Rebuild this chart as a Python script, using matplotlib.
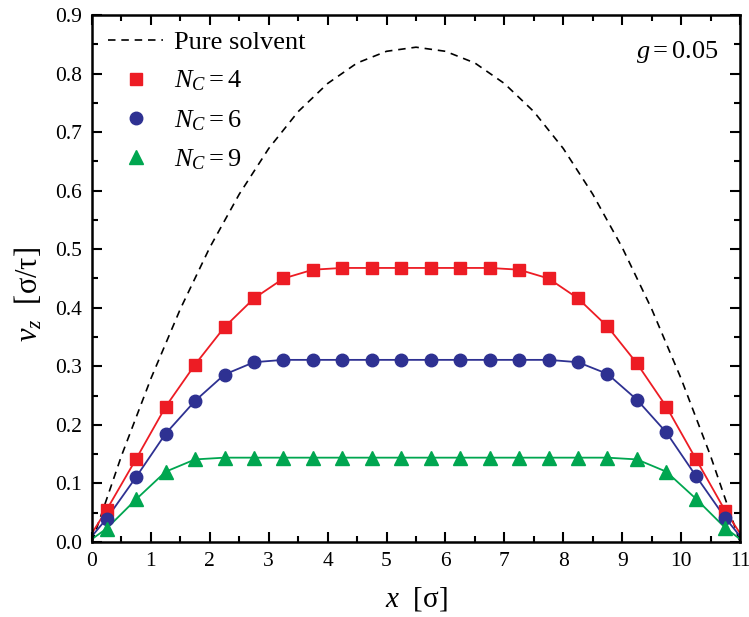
import matplotlib
matplotlib.use("Agg")
import matplotlib.pyplot as plt
from matplotlib.ticker import MultipleLocator, FormatStrFormatter

plt.rcParams["font.family"] = ["Liberation Serif", "DejaVu Serif"]
plt.rcParams["mathtext.fontset"] = "custom"
plt.rcParams["mathtext.rm"] = "Liberation Serif"
plt.rcParams["mathtext.it"] = "Liberation Serif:italic"
plt.rcParams["mathtext.bf"] = "Liberation Serif:bold"

# Sampled positions across the channel
x_pts = [0.25, 0.75, 1.25, 1.75, 2.25, 2.75, 3.25, 3.75, 4.25, 4.75, 5.25,
         5.75, 6.25, 6.75, 7.25, 7.75, 8.25, 8.75, 9.25, 9.75, 10.25, 10.75]

v_nc4 = [0.055, 0.142, 0.231, 0.303, 0.367, 0.416, 0.450, 0.465, 0.468, 0.468, 0.468,
         0.468, 0.468, 0.468, 0.465, 0.450, 0.416, 0.368, 0.305, 0.231, 0.142, 0.053]
v_nc6 = [0.040, 0.111, 0.185, 0.241, 0.286, 0.307, 0.311, 0.311, 0.311, 0.311, 0.311,
         0.311, 0.311, 0.311, 0.311, 0.311, 0.307, 0.287, 0.243, 0.187, 0.113, 0.041]
v_nc9 = [0.023, 0.073, 0.120, 0.141, 0.144, 0.144, 0.144, 0.144, 0.144, 0.144, 0.144,
         0.144, 0.144, 0.144, 0.144, 0.144, 0.144, 0.144, 0.141, 0.120, 0.074, 0.024]

# Wall values used to close the fitted lines
x_walls = [0.0, 11.0]
wall_nc4 = [0.015, 0.015]
wall_nc6 = [0.010, 0.010]
wall_nc9 = [0.005, 0.005]

# Pure solvent profile
x_solvent = [0.0, 0.5, 1.0, 1.5, 2.0, 2.5, 3.0, 3.5, 4.0, 4.5, 5.0, 5.5,
             6.0, 6.5, 7.0, 7.5, 8.0, 8.5, 9.0, 9.5, 10.0, 10.5, 11.0]
v_solvent = [0.000, 0.147, 0.279, 0.398, 0.503, 0.594, 0.672, 0.735, 0.783, 0.818, 0.838, 0.845,
             0.838, 0.818, 0.783, 0.735, 0.672, 0.594, 0.503, 0.398, 0.279, 0.147, 0.000]

series = [
    ("$N_C = 4$", v_nc4, wall_nc4, "#ED1C24", "s", 8.0),
    ("$N_C = 6$", v_nc6, wall_nc6, "#2E3192", "o", 9.0),
    ("$N_C = 9$", v_nc9, wall_nc9, "#00A650", "^", 9.5),
]

fig = plt.figure(figsize=(7.49, 6.17), dpi=100)
ax = fig.add_axes([0.1228, 0.1216, 0.8652, 0.8541])

ax.plot(x_solvent, v_solvent, linestyle=(0, (4.5, 3.5)), color="black", lw=1.2,
        label="Pure solvent")

for label, vals, walls, color, marker, ms in series:
    xs = [x_walls[0]] + x_pts + [x_walls[1]]
    ys = [walls[0]] + vals + [walls[1]]
    ax.plot(xs, ys, color=color, lw=1.3, zorder=2)
    ax.plot(x_pts, vals, linestyle="none", marker=marker, markersize=ms,
            color=color, markeredgecolor=color, zorder=3, label=label)

ax.set_xlim(0, 11)
ax.set_ylim(0, 0.9)
ax.xaxis.set_major_locator(MultipleLocator(1))
ax.xaxis.set_minor_locator(MultipleLocator(0.5))
ax.yaxis.set_major_locator(MultipleLocator(0.1))
ax.yaxis.set_minor_locator(MultipleLocator(0.05))
ax.yaxis.set_major_formatter(FormatStrFormatter("%.1f"))
ax.tick_params(which="both", direction="in", top=True, right=True, width=1.5,
               labelsize=15.5, pad=7)
ax.tick_params(which="major", length=7)
ax.tick_params(which="minor", length=4)
for sp in ax.spines.values():
    sp.set_linewidth(1.8)

ax.set_xlabel("$x$  [σ]", fontsize=21)
ax.xaxis.set_label_coords(0.5, -0.082)
ax.set_ylabel("$v_z$  [σ/τ]", fontsize=22)
ax.yaxis.set_label_coords(-0.074, 0.47)

ax.text(0.967, 0.955, "$g = 0.05$", transform=ax.transAxes, ha="right", va="top",
        fontsize=19)

ax.legend(loc="upper left", frameon=False, fontsize=19, handlelength=2.1,
          handletextpad=0.4, labelspacing=0.55, borderaxespad=0.2)

fig.savefig("out.png", dpi=100)
